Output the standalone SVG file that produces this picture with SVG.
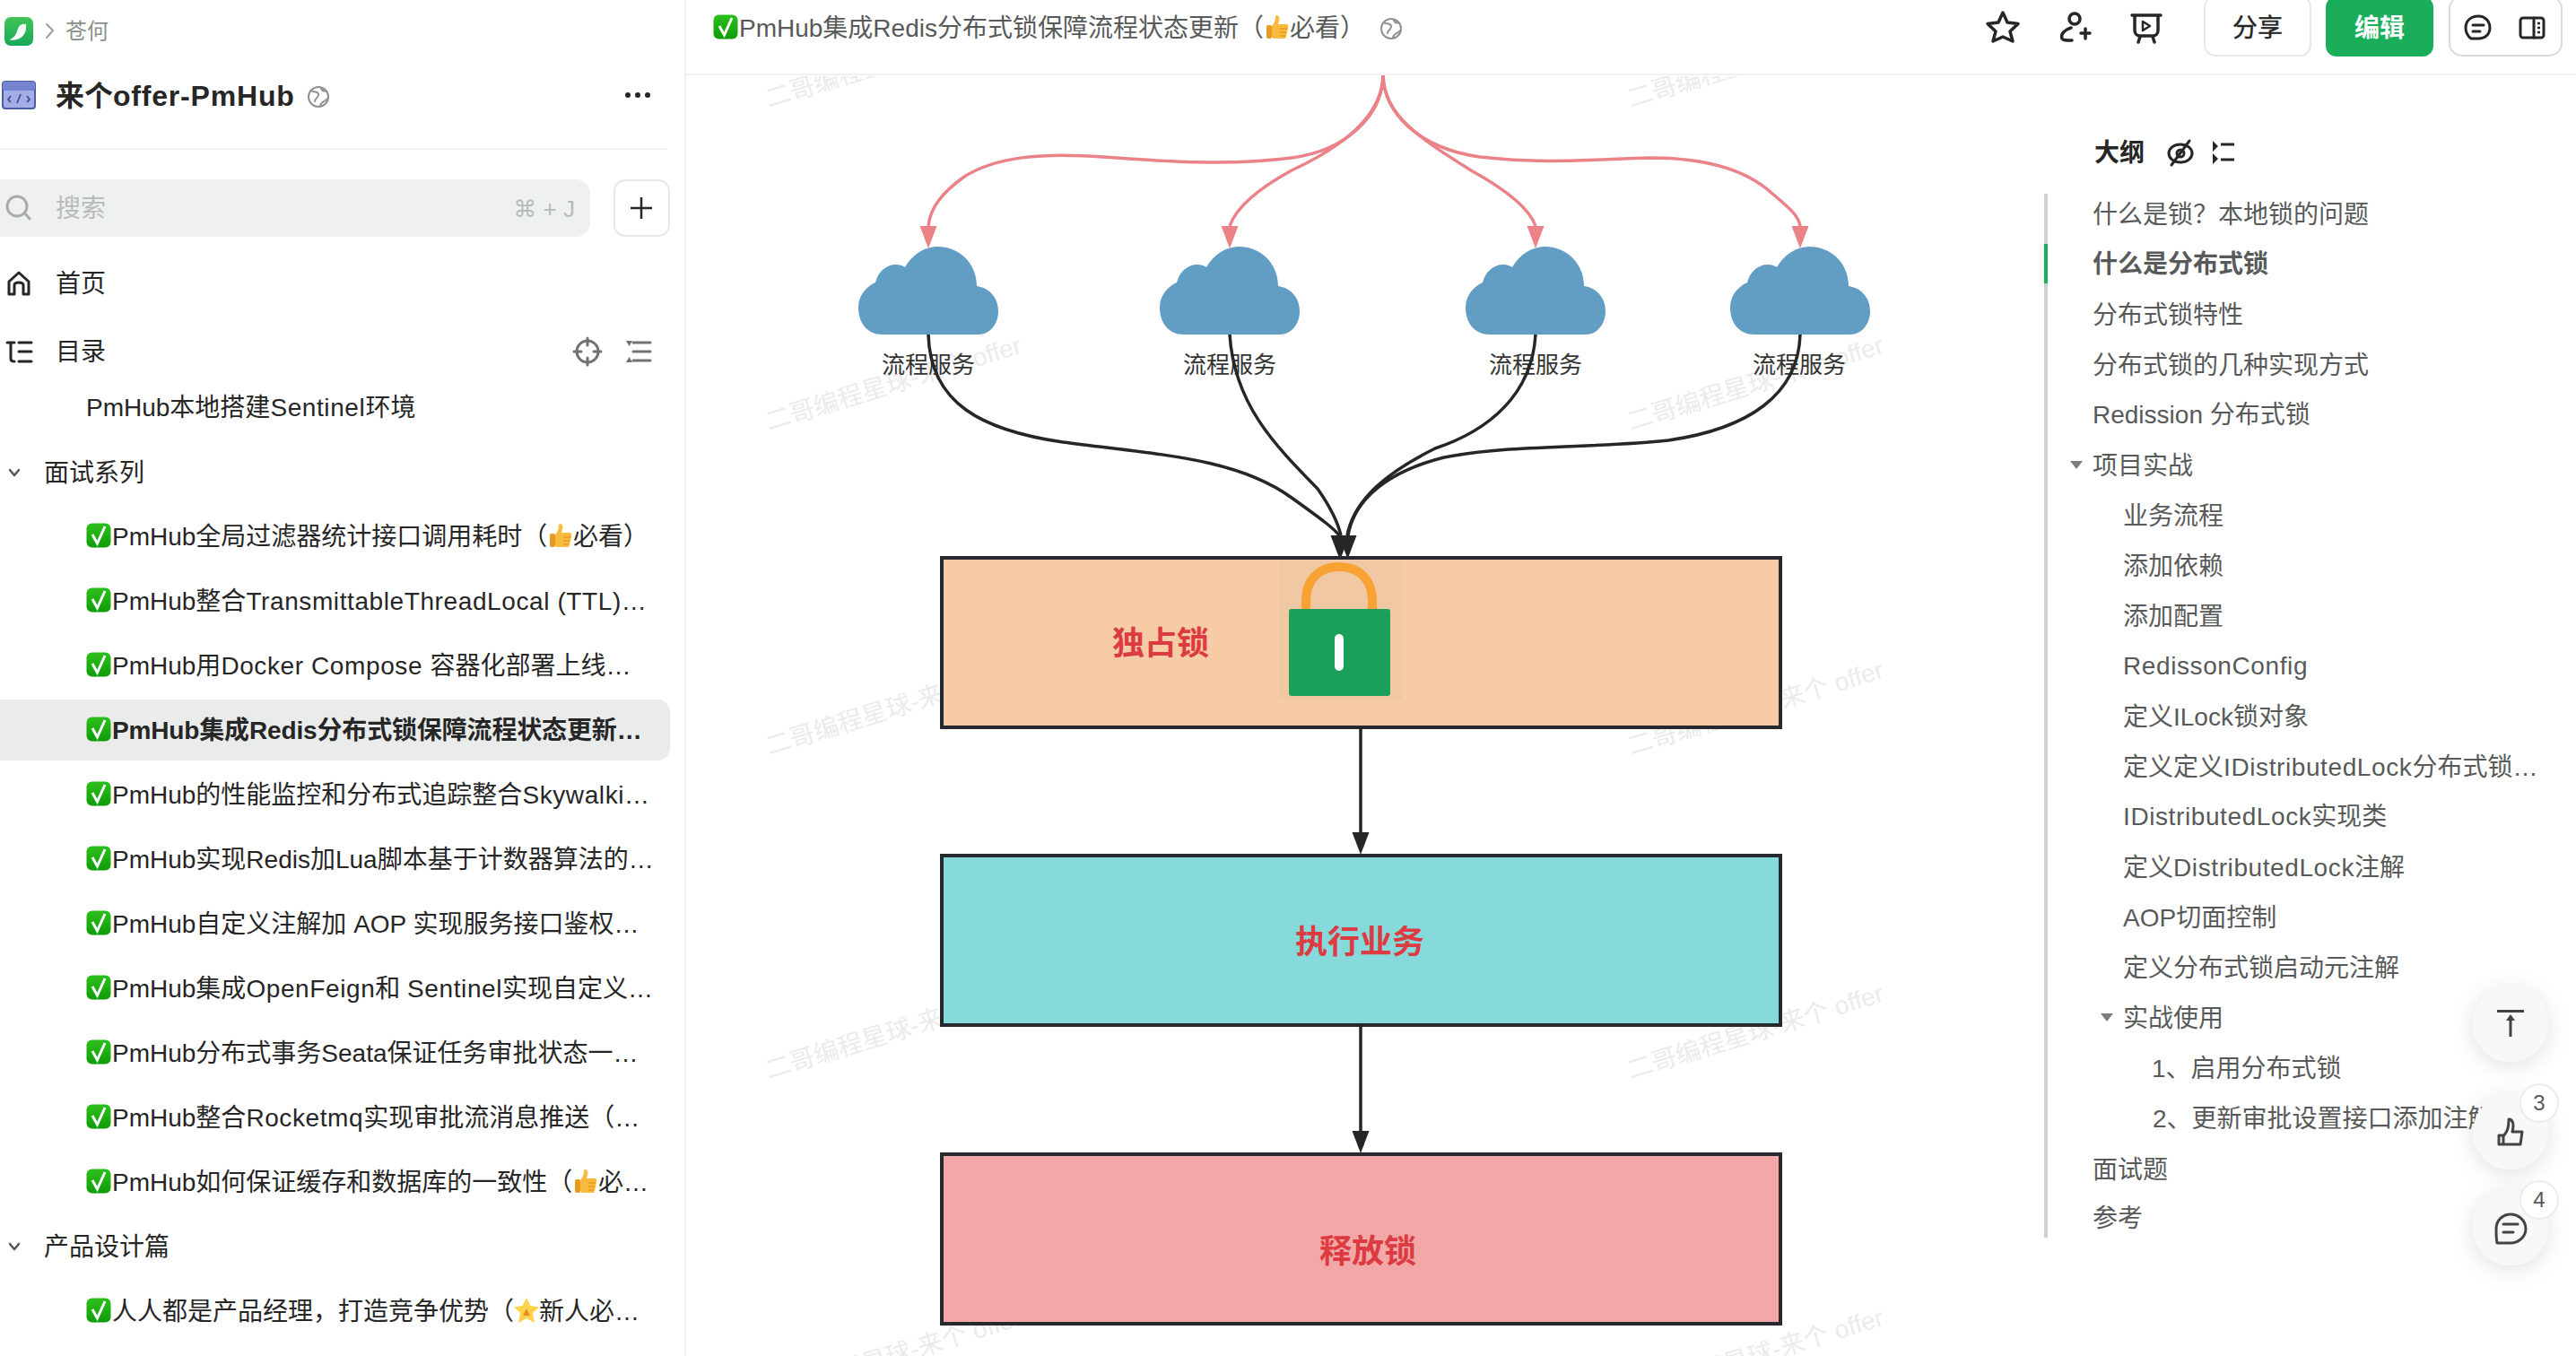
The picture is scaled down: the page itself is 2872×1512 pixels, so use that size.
<svg xmlns="http://www.w3.org/2000/svg" width="2872" height="1512" viewBox="0 0 2872 1512">
<style>
text{font-family:"Liberation Sans","Noto Sans CJK SC",sans-serif;font-size:28px;fill:#262626}
.o{fill:#585a5a}
.b{font-weight:700}
.l{letter-spacing:.6px}
.g{fill:#8a8f8d;font-size:24px}
.ph{fill:#b8bbbb}
.wm{fill:#ebebeb}
.lab{font-size:26px;fill:#333;text-anchor:middle}
.red{font-size:36px;font-weight:700;fill:#dc3b42;text-anchor:middle}
.box{stroke:#262a2e;stroke-width:4}
.cloud{fill:#629dc4}
.ic{fill:none;stroke:#262626;stroke-width:3.5;stroke-linecap:round;stroke-linejoin:round}
.icg{fill:none;stroke:#6f7472;stroke-width:3;stroke-linecap:round;stroke-linejoin:round}
.pink{fill:none;stroke:#ea8288;stroke-width:3.500}
.blk{fill:none;stroke:#262626;stroke-width:3.500}
.fab{fill:#f8f8f8;filter:url(#sh)}
.badge{fill:#fff;stroke:#ececec;stroke-width:2}
.bt{font-size:24px;fill:#585a5a;text-anchor:middle}
</style>
<defs>
<marker id="ap" markerUnits="userSpaceOnUse" markerWidth="26" markerHeight="20" refX="0" refY="10" orient="90"><path d="M0 0.5L25 10L0 19.5z" fill="#ea8288"/></marker>
<marker id="ab" markerUnits="userSpaceOnUse" markerWidth="26" markerHeight="20" refX="0" refY="10" orient="90"><path d="M0 0.5L25 10L0 19.5z" fill="#262626"/></marker>
<linearGradient id="gc" x1="0" y1="0" x2="0" y2="1"><stop offset="0" stop-color="#2cc01c"/><stop offset="1" stop-color="#0f9c08"/></linearGradient>
<linearGradient id="gl" x1="0" y1="0" x2="0" y2="1"><stop offset="0" stop-color="#45c456"/><stop offset="1" stop-color="#16a85a"/></linearGradient>
<symbol id="ck" width="28" height="28" viewBox="0 0 28 28"><rect x="0.5" y="0.5" width="27" height="27" rx="6" fill="url(#gc)"/><path d="M7 13L12.5 23L21 4" fill="none" stroke="#fff" stroke-width="3"/></symbol>
<symbol id="th" width="28" height="28" viewBox="0 0 28 28"><path d="M13 1C16 1 17 4 16 7L15 11H24C26 11 27 13 26 15L24 25C23.500 27 22 27 20 27H11C9 27 8 26 8 24V13C11 10 12 6 12 2Z" fill="#f8bb3e"/><rect x="2" y="12" width="6" height="15" rx="2" fill="#e59a22"/><path d="M17 16H25M17 20H24M17 24H23" stroke="#e59a22" stroke-width="1.500"/></symbol>
<symbol id="st" width="28" height="28" viewBox="0 0 28 28"><path d="M14 0L18.500 9L28 10.500L21 17L23 28L14 23L5 28L7 17L0 10.500L9.500 9Z" fill="#fcd34a"/><path d="M14 12L18 20H10Z" fill="#f08a24"/></symbol>
<path id="cl" d="M27 98C10 98 0 85 0 68C0 55 8 45 19 40C22 28 31 20 42 20C46 20 49 21 52 23C60 9 74 0 88 0C112 0 132 18 132 44C146 46 156 57 156 72C156 87 146 98 134 98Z"/>
<filter id="sh" x="-50%" y="-50%" width="200%" height="200%"><feDropShadow dx="0" dy="4" stdDeviation="12" flood-color="#000" flood-opacity="0.12"/></filter>
<clipPath id="wc"><rect x="765" y="85" width="1435" height="1427"/></clipPath>
</defs>
<rect width="2872" height="1512" fill="#fff"/>

<g id="watermarks" clip-path="url(#wc)">
<text class="wm" transform="translate(857 120) rotate(-17)">二哥编程星球-来个 offer</text>
<text class="wm" transform="translate(1818 120) rotate(-17)">二哥编程星球-来个 offer</text>
<text class="wm" transform="translate(857 480) rotate(-17)">二哥编程星球-来个 offer</text>
<text class="wm" transform="translate(1818 480) rotate(-17)">二哥编程星球-来个 offer</text>
<text class="wm" transform="translate(857 842) rotate(-17)">二哥编程星球-来个 offer</text>
<text class="wm" transform="translate(1818 842) rotate(-17)">二哥编程星球-来个 offer</text>
<text class="wm" transform="translate(857 1203) rotate(-17)">二哥编程星球-来个 offer</text>
<text class="wm" transform="translate(1818 1203) rotate(-17)">二哥编程星球-来个 offer</text>
<text class="wm" transform="translate(857 1564) rotate(-17)">二哥编程星球-来个 offer</text>
<text class="wm" transform="translate(1818 1564) rotate(-17)">二哥编程星球-来个 offer</text>
</g>

<g id="sidebar">
<rect x="763" y="0" width="2" height="1512" fill="#f1f1f1"/>
<rect x="5" y="19" width="32" height="32" rx="7" fill="url(#gl)"/>
<path d="M10 44C16 43 18 38 20 32C21 28 25 26 29 27C30 34 27 42 19 44C16 45 12 45 10 44Z" fill="#fff" opacity="0.95"/>
<path class="icg" d="M52 27L59 34L52 42" style="stroke:#9a9e9c;stroke-width:2"/>
<text class="g" x="73" y="43">苍何</text>
<rect x="3" y="91" width="36" height="30" rx="3" fill="#a3aee4" stroke="#4b5da6" stroke-width="2"/>
<rect x="3" y="91" width="36" height="10" rx="2" fill="#7684cf"/>
<path d="M12 107L9 111L12 114M19 115L23 105M30 107L33 111L30 114" fill="none" stroke="#3f4f9e" stroke-width="1.800"/>
<text class="b" x="62" y="118" style="font-size:32px">来个<tspan style="letter-spacing:.8px">offer-PmHub</tspan></text>
<g class="icg" style="stroke:#8d9190;stroke-width:2"><circle cx="355" cy="108" r="11"/><path d="M347 101C351 104 354 101 355 105C356 109 351 109 351 113M357 118C358 113 362 114 365 110M358 98C358 101 361 102 363 101"/></g>
<circle cx="700" cy="106" r="3" fill="#262626"/><circle cx="711" cy="106" r="3" fill="#262626"/><circle cx="722" cy="106" r="3" fill="#262626"/>
<rect x="0" y="165" width="743" height="2" fill="#f0f1f1"/>
<rect x="-20" y="200" width="678" height="64" rx="16" fill="#eff1f1"/>
<g class="icg" style="stroke:#a9acac"><circle cx="19" cy="230" r="11"/><path d="M28 238L33 244"/></g>
<text class="ph" x="62" y="242">搜索</text>
<text class="ph" x="641" y="242" text-anchor="end" style="font-size:26px;font-family:'Liberation Sans','DejaVu Sans',sans-serif">⌘ + J</text>
<rect x="685" y="201" width="61" height="62" rx="12" fill="#fff" stroke="#e6e8e8" stroke-width="2"/>
<path class="ic" d="M715 220V244M703 232H727" style="stroke-width:2.500;stroke-linecap:butt"/>
<path class="ic" d="M10 328V314L21 304L32 314V328H26V318C26 314 16 314 16 318V328Z" style="stroke-width:3"/>
<text x="62" y="326">首页</text>
<g class="ic" style="stroke-width:3"><path d="M8 382H16M12 382V400C12 402 14 403 16 403M21 382H35M21 392H35M21 403H35"/></g>
<text x="62" y="402">目录</text>
<g class="icg"><circle cx="655" cy="392" r="12"/><path d="M655 377V385M655 399V407M640 392H648M662 392H670"/></g>
<g class="icg"><path d="M706 382H725M706 392H725M706 402H725"/></g>
<path d="M698 380H705L701.500 386ZM698 404H705L701.500 398Z" fill="#6f7472"/>
<text x="96" y="464">PmHub本地搭建<tspan class="l">Sentinel</tspan>环境</text>
<path class="icg" d="M11 524L16 530L21 524" style="stroke:#555;stroke-width:2.500"/>
<text x="49" y="537">面试系列</text>

<use href="#ck" x="96" y="583"/>
<text x="125" y="608">PmHub全局过滤器统计接口调用耗时（<tspan x="639">必看）</tspan></text>
<use href="#th" x="611" y="583"/>
<use href="#ck" x="96" y="655"/>
<text x="125" y="680">PmHub整合<tspan class="l">TransmittableThreadLocal (TTL)</tspan>…</text>
<use href="#ck" x="96" y="727"/>
<text x="125" y="752">PmHub用<tspan class="l">Docker Compose </tspan>容器化部署上线…</text>
<rect x="-20" y="780" width="767" height="68" rx="14" fill="#eaecec"/>
<use href="#ck" x="96" y="799"/>
<text class="b" x="125" y="824" style="letter-spacing:-.15px">PmHub集成Redis分布式锁保障流程状态更新…</text>
<use href="#ck" x="96" y="871"/>
<text x="125" y="896">PmHub的性能监控和分布式追踪整合<tspan class="l">Skywalki</tspan>…</text>
<use href="#ck" x="96" y="943"/>
<text x="125" y="968">PmHub实现Redis加Lua脚本基于计数器算法的…</text>
<use href="#ck" x="96" y="1015"/>
<text x="125" y="1040">PmHub自定义注解加 AOP 实现服务接口鉴权…</text>
<use href="#ck" x="96" y="1087"/>
<text x="125" y="1112">PmHub集成<tspan class="l">OpenFeign</tspan>和 <tspan class="l">Sentinel</tspan>实现自定义…</text>
<use href="#ck" x="96" y="1159"/>
<text x="125" y="1184">PmHub分布式事务Seata保证任务审批状态一…</text>
<use href="#ck" x="96" y="1231"/>
<text x="125" y="1256">PmHub整合<tspan class="l">Rocketmq</tspan>实现审批流消息推送（…</text>
<use href="#ck" x="96" y="1303"/>
<text x="125" y="1328">PmHub如何保证缓存和数据库的一致性（<tspan x="667">必…</tspan></text>
<use href="#th" x="639" y="1303"/>
<path class="icg" d="M11 1387L16 1393L21 1387" style="stroke:#555;stroke-width:2.500"/>
<text x="49" y="1400">产品设计篇</text>
<use href="#ck" x="96" y="1447"/>
<text x="125" y="1472">人人都是产品经理，打造竞争优势（<tspan x="601">新人必…</tspan></text>
<use href="#st" x="573" y="1447"/>
</g>

<g id="topbar">
<rect x="765" y="82" width="2107" height="2" fill="#f1f1f1"/>
<use href="#ck" x="795" y="16"/>
<text class="o" x="824" y="41">PmHub集成Redis分布式锁保障流程状态更新（<tspan x="1438">必看）</tspan></text>
<use href="#th" x="1410" y="16"/>
<g class="icg" style="stroke:#8d9190;stroke-width:2"><circle cx="1551" cy="32" r="11"/><path d="M1543 25C1547 28 1550 25 1551 29C1552 33 1547 33 1547 37M1553 42C1554 37 1558 38 1561 34M1554 22C1554 25 1557 26 1559 25"/></g>
<path class="ic" d="M2233 14L2238 25L2250 26.500L2241 35L2244 46L2233 41L2222 46L2225 35L2216 26.500L2228 25Z"/>
<g class="ic"><circle cx="2313" cy="21" r="6"/><path d="M2309 31C2302 33 2297 38 2299 43C2300 45 2303 45 2310 45M2320 37H2330M2325 32V43" /></g>
<g class="ic"><path d="M2377 17H2409M2380 17V34C2380 38 2383 40 2386 40H2400C2403 40 2406 38 2406 34V17M2386 41L2384 47M2400 41L2402 47"/><path d="M2389 24L2397 29L2389 34Z" style="stroke-width:2.500"/></g>
<rect x="2458" y="-4" width="118" height="66" rx="12" fill="#fff" stroke="#e6e8e8" stroke-width="2"/>
<text x="2517" y="41" text-anchor="middle" style="stroke:#262626;stroke-width:.4">分享</text>
<rect x="2593" y="-4" width="120" height="67" rx="12" fill="#1aae5b"/>
<text x="2653" y="41" text-anchor="middle" style="fill:#fff;font-weight:700">编辑</text>
<rect x="2731" y="-4" width="125" height="66" rx="14" fill="#fff" stroke="#d9dbdb" stroke-width="2"/>
<g class="ic" style="stroke-width:3"><path d="M2755 43C2751 40 2749 36 2749 31C2749 23 2755 18 2763 18C2771 18 2776 24 2776 31C2776 38 2771 43 2763 43Z"/><path d="M2757 28H2769M2757 35H2765"/></g>
<g class="ic" style="stroke-width:3"><rect x="2810" y="20" width="26" height="22" rx="3"/><path d="M2825 20V42"/></g>
<path d="M2829 26h3M2829 31h3M2829 36h3" stroke="#262626" stroke-width="2.500"/>
</g>

<g id="node-lock">
<rect class="box" x="1050" y="622" width="935" height="189" fill="#f6cba6"/>
<rect x="1426" y="625" width="137" height="155" fill="#f0c8a3"/>
<path d="M1456 681V670C1456 645 1472 632 1493 632C1514 632 1530 645 1530 670V681" fill="none" stroke="#f7a233" stroke-width="10"/>
<rect x="1437" y="679" width="113" height="97" rx="3" fill="#1aa058"/>
<rect x="1488" y="707" width="10" height="41" rx="5" fill="#fff"/>
<text class="red" x="1294" y="730">独占锁</text>
</g>
<g id="node-exec">
<rect class="box" x="1050" y="954" width="935" height="189" fill="#86dadb"/>
<text class="red" x="1516" y="1063">执行业务</text>
</g>
<g id="node-release">
<rect class="box" x="1050" y="1287" width="935" height="189" fill="#f2a8a8"/>
<text class="red" x="1525" y="1408">释放锁</text>
</g>
<g id="node-svc1"><use href="#cl" class="cloud" x="957" y="275"/><text class="lab" x="1035" y="416">流程服务</text></g>
<g id="node-svc2"><use href="#cl" class="cloud" x="1293" y="275"/><text class="lab" x="1371" y="416">流程服务</text></g>
<g id="node-svc3"><use href="#cl" class="cloud" x="1634" y="275"/><text class="lab" x="1712" y="416">流程服务</text></g>
<g id="node-svc4"><use href="#cl" class="cloud" x="1929" y="275"/><text class="lab" x="2006" y="416">流程服务</text></g>

<g id="connectors">
<path class="pink" marker-end="url(#ap)" d="M1542 84C1541 130 1500 168 1440 176C1370 185 1300 180 1230 175C1160 170 1110 175 1075 197C1050 215 1037 232 1035 252"/>
<path class="pink" marker-end="url(#ap)" d="M1542 84C1541 125 1505 160 1440 190C1400 212 1378 232 1371 252"/>
<path class="pink" marker-end="url(#ap)" d="M1542 84C1543 130 1585 155 1640 190C1680 212 1705 232 1712 252"/>
<path class="pink" marker-end="url(#ap)" d="M1542 84C1543 125 1580 165 1650 175C1720 183 1770 178 1840 176C1900 176 1945 188 1975 215C1995 232 2005 240 2007 252"/>
<path class="blk" marker-end="url(#ab)" d="M1035 373C1037 450 1095 480 1185 493C1290 507 1378 510 1440 555C1475 580 1488 590 1493 597"/>
<path class="blk" marker-end="url(#ab)" d="M1371 373C1376 450 1420 495 1469 545C1483 565 1491 580 1495 597"/>
<path class="blk" marker-end="url(#ab)" d="M1712 373C1708 440 1660 480 1600 500C1550 525 1510 555 1502 597"/>
<path class="blk" marker-end="url(#ab)" d="M2007 373C2005 440 1950 478 1860 491C1780 500 1690 495 1610 510C1550 525 1510 555 1503 597"/>
<path class="blk" marker-end="url(#ab)" d="M1517 811V928"/>
<path class="blk" marker-end="url(#ab)" d="M1517 1143V1261"/>
</g>

<g id="outline">
<text class="b" x="2335" y="180">大纲</text>
<g class="ic" style="stroke-width:3"><ellipse cx="2431" cy="171" rx="13" ry="10"/><circle cx="2431" cy="171" r="4"/><path d="M2441 157L2421 184"/></g>
<path d="M2467 157L2473 163L2467 169ZM2467 171L2473 177L2467 183Z" fill="#262626"/>
<path d="M2476 161H2491M2476 178H2491" stroke="#262626" stroke-width="3"/>
<rect x="2279" y="216" width="4" height="1164" fill="#d0d0d0"/>
<rect x="2279" y="272" width="4" height="44" fill="#1aae5b"/>
<text class="o" x="2333" y="249">什么是锁？本地锁的问题</text>
<text class="o b" x="2333" y="304">什么是分布式锁</text>
<text class="o" x="2333" y="361">分布式锁特性</text>
<text class="o" x="2333" y="417">分布式锁的几种实现方式</text>
<text class="o" x="2333" y="472">Redission 分布式锁</text>
<path d="M2308 514H2322L2315 523Z" fill="#7a7f7d"/>
<text class="o" x="2333" y="529">项目实战</text>
<text class="o" x="2367" y="585">业务流程</text>
<text class="o" x="2367" y="641">添加依赖</text>
<text class="o" x="2367" y="697">添加配置</text>
<text class="o" x="2367" y="752"><tspan class="l">RedissonConfig</tspan></text>
<text class="o" x="2367" y="809">定义ILock锁对象</text>
<text class="o" x="2367" y="865">定义定义<tspan class="l">IDistributedLock</tspan>分布式锁…</text>
<text class="o" x="2367" y="920"><tspan class="l">IDistributedLock</tspan>实现类</text>
<text class="o" x="2367" y="977">定义<tspan class="l">DistributedLock</tspan>注解</text>
<text class="o" x="2367" y="1033">AOP切面控制</text>
<text class="o" x="2367" y="1089">定义分布式锁启动元注解</text>
<path d="M2342 1130H2356L2349 1139Z" fill="#7a7f7d"/>
<text class="o" x="2367" y="1145">实战使用</text>
<text class="o" x="2399" y="1201">1、启用分布式锁</text>
<text class="o" x="2400" y="1257">2、更新审批设置接口添加注解</text>
<text class="o" x="2333" y="1314">面试题</text>
<text class="o" x="2333" y="1368">参考</text>
</g>

<g id="fabs">
<circle class="fab" cx="2799" cy="1142" r="42"/>
<path class="ic" d="M2784 1127.500H2814" style="stroke:#444;stroke-width:3;stroke-linecap:butt"/>
<path d="M2799 1156V1133" stroke="#444" stroke-width="3"/><path d="M2794 1138L2799 1131L2804 1138Z" fill="#444"/>
<circle class="fab" cx="2799" cy="1262" r="42"/>
<path class="ic" d="M2786 1266V1276H2791V1266ZM2791 1267C2795 1262 2797 1259 2797 1248C2802 1248 2803 1254 2801 1262H2812L2810 1276H2791" style="stroke:#444;stroke-width:3"/>
<circle class="badge" cx="2831" cy="1230" r="21"/>
<text class="bt" x="2831" y="1238">3</text>
<circle class="fab" cx="2799" cy="1369" r="42"/>
<g class="ic" style="stroke:#444;stroke-width:3"><path d="M2784 1386C2783 1382 2783 1378 2783 1370C2783 1361 2790 1354 2799 1354C2808 1354 2816 1361 2816 1370C2816 1379 2808 1386 2799 1386Z"/><path d="M2791 1365H2807M2791 1374H2802"/></g>
<circle class="badge" cx="2831" cy="1338" r="21"/>
<text class="bt" x="2831" y="1346">4</text>
</g>
</svg>
